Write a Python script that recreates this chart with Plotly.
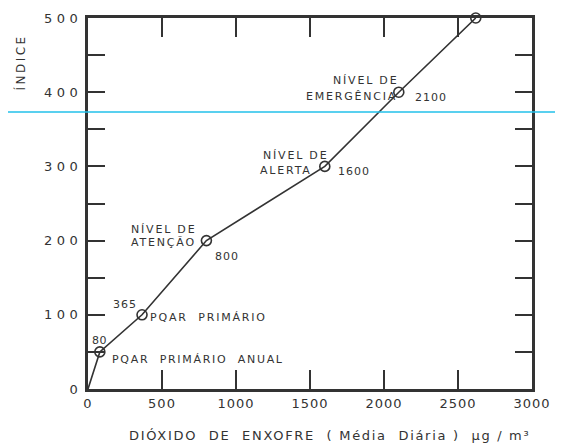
import plotly.graph_objects as go

# data
so2 = [0, 80, 365, 800, 1600, 2100, 2620]
indice = [0, 50, 100, 200, 300, 400, 500]
marker_so2 = [80, 365, 800, 1600, 2100, 2620]
marker_idx = [50, 100, 200, 300, 400, 500]
x_ticks = [0, 500, 1000, 1500, 2000, 2500, 3000]
y_ticks = [0, 100, 200, 300, 400, 500]

INK = "#333333"
FONT = "DejaVu Sans"

def sp(t, ls=1.5):
    return f'<span style="letter-spacing:{ls}px">{t}</span>'

fig = go.Figure()
fig.add_trace(go.Scatter(x=so2, y=indice, mode="lines",
                         line=dict(color=INK, width=1.6), hoverinfo="skip"))
fig.add_trace(go.Scatter(x=marker_so2, y=marker_idx, mode="markers",
                         marker=dict(symbol="circle-open", size=10, color=INK,
                                     line=dict(width=1.6, color=INK)),
                         hoverinfo="skip", cliponaxis=False))

ann = []
f11 = dict(family=FONT, size=11, color=INK)
def A(x, y, text, xs, ys, xa="center", ya="middle"):
    ann.append(dict(x=x, y=y, xref="x", yref="y", text=text, showarrow=False,
                    xshift=xs, yshift=ys, xanchor=xa, yanchor=ya, font=f11))

A(80, 50, sp("80", 0.5), 0, 11)
A(80, 50, sp("PQAR  PRIMÁRIO  ANUAL", 1.7), 10, -8, "left")
A(365, 100, sp("365", 1), -17, 10)
A(365, 100, sp("PQAR  PRIMÁRIO", 1.8), 6, -3, "left")
A(800, 200, sp("NÍVEL DE", 1.8), -43, 11)
A(800, 200, sp("ATENÇÃO", 1.8), -43, -2)
A(800, 200, sp("800", 1), 21, -16)
A(1600, 300, sp("NÍVEL DE", 1.8), -29, 11)
A(1600, 300, sp("ALERTA", 1.8), -39, -4)
A(1600, 300, sp("1600", 1), 29, -5)
A(2100, 400, sp("NÍVEL DE", 1.8), -33, 12)
A(2100, 400, sp("EMERGÊNCIA", 1.8), -47, -4)
A(2100, 400, sp("2100", 1), 32, -5)

ann.append(dict(x=-0.153, y=0.88, xref="paper", yref="paper", text=sp("ÍNDICE", 2.5),
                textangle=-90, showarrow=False, xanchor="center", yanchor="middle",
                font=dict(family=FONT, size=12, color=INK)))
ann.append(dict(x=0.543, y=-0.124, xref="paper", yref="paper",
                text=sp("DIÓXIDO  DE  ENXOFRE  ( Média  Diária )  μg / m³", 1.7),
                showarrow=False, xanchor="center", yanchor="middle",
                font=dict(family=FONT, size=13, color=INK)))
fig.update_layout(annotations=ann)

fig.add_shape(type="line", xref="paper", yref="paper", x0=-0.25, x1=1.1,
              y0=0.7466, y1=0.7466, line=dict(color="#22c0ea", width=1.5), layer="above")

fig.update_xaxes(range=[0, 3000], tickvals=x_ticks,
                 ticktext=[sp(str(v), 1) for v in x_ticks],
                 ticks="inside", ticklen=19, tickwidth=1.5, tickcolor=INK,
                 showline=True, linewidth=3, linecolor=INK, mirror="ticks",
                 showgrid=False, zeroline=False, automargin=False,
                 tickfont=dict(family=FONT, size=13, color=INK))
fig.update_yaxes(range=[0, 500], tickvals=y_ticks,
                 ticktext=[sp(str(v), 4.5) for v in y_ticks],
                 ticks="inside", ticklen=17, tickwidth=1.5, tickcolor=INK,
                 minor=dict(dtick=50, ticks="inside", ticklen=17, tickwidth=1.5, tickcolor=INK),
                 showline=True, linewidth=3, linecolor=INK, mirror="ticks",
                 showgrid=False, zeroline=False, automargin=False,
                 tickfont=dict(family=FONT, size=13, color=INK))

# page body has an 8px margin, so the figure is sized/offset to compensate
fig.update_layout(width=555, height=438, margin=dict(l=80, r=31, t=10, b=57),
                  plot_bgcolor="white", paper_bgcolor="white", showlegend=False)
fig.write_html("out.html")
